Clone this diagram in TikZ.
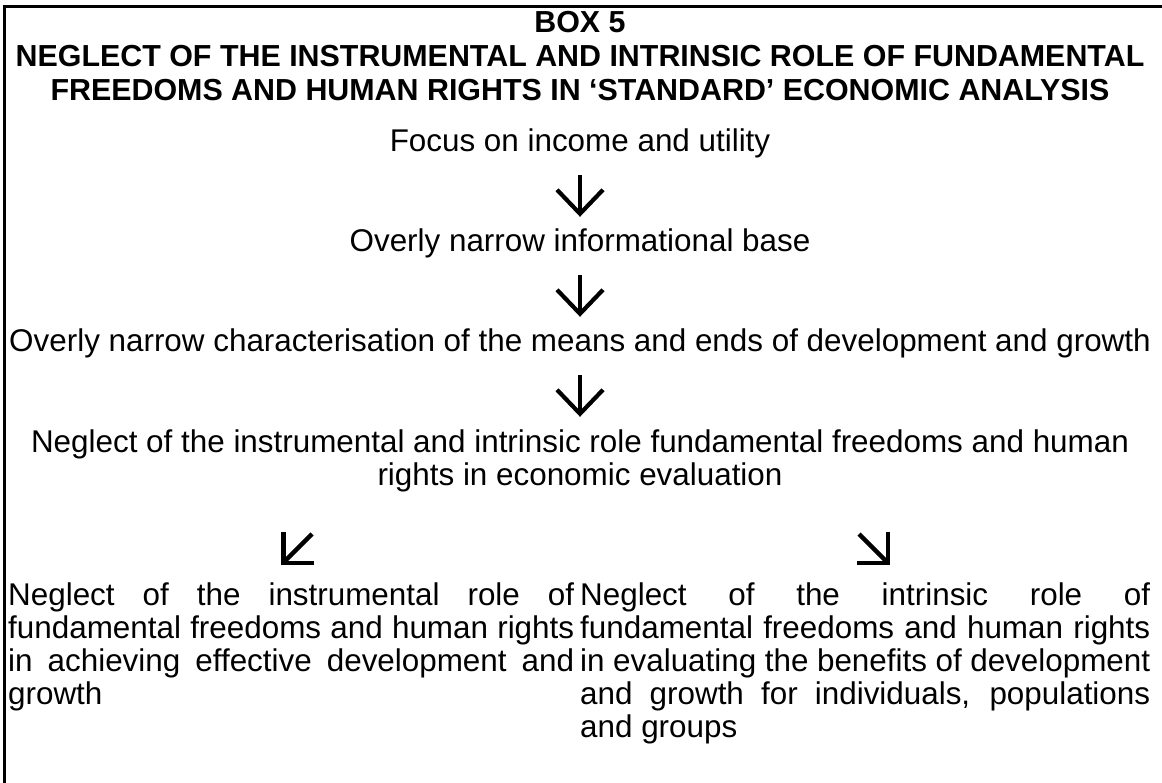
\documentclass[tikz,border=0pt]{standalone}
\usepackage{fontspec}
\setmainfont{Liberation Sans}
\usetikzlibrary{arrows.meta}
\begin{document}
\begin{tikzpicture}[x=1pt,y=-1pt,
  ln/.style={inner sep=0pt, text height=23pt, text depth=7pt, anchor=base,
             font=\fontsize{31.4}{33}\selectfont},
  hd/.style={ln, font=\fontsize{30.4}{33}\selectfont\bfseries},
  lcol/.style={ln, anchor=base west},
  downarr/.style={line width=4.2pt, -{Straight Barb[length=24pt,width=46pt,sharp]},
                  shorten <=16pt, shorten >=12pt},
  diagarr/.style={line width=4.5pt, -{Straight Barb[length=22pt,width=44pt,sharp]}},
  frame/.style={line width=3pt}]
\useasboundingbox (0,0) rectangle (1162,783);
\draw[frame] (4,790) -- (4,7) -- (1170,7);

\node[hd] (box) at (580,33) {BOX 5};
\node[hd] (h2) at (580,67) {NEGLECT OF THE INSTRUMENTAL AND INTRINSIC ROLE OF FUNDAMENTAL};
\node[hd] (h3) at (580,101) {FREEDOMS AND HUMAN RIGHTS IN ‘STANDARD’ ECONOMIC ANALYSIS};

\node[ln] (focus) at (580,152) {Focus on income and utility};
\node[ln] (over1) at (580,252) {Overly narrow informational base};
\node[ln] (over2) at (580,352) {Overly narrow characterisation of the means and ends of development and growth};
\node[ln] (neg1) at (580,452) {Neglect of the instrumental and intrinsic role fundamental freedoms and human};
\node[ln] (neg2) at (580,485) {rights in economic evaluation};

\draw[downarr] (focus) -- (over1);
\draw[downarr] (over1) -- (over2);
\draw[downarr] (over2) -- (neg1);

\coordinate (dls) at (312,534);
\coordinate (dle) at (281,565);
\coordinate (drs) at (859,534);
\coordinate (dre) at (890,565);
\draw[diagarr] (dls) -- (dle);
\draw[diagarr] (drs) -- (dre);

\node[lcol] (l1) at (8,605) {\makebox[566pt][s]{Neglect of the instrumental role of}};
\node[lcol] (l2) at (8,638) {\makebox[566pt][s]{fundamental freedoms and human rights}};
\node[lcol] (l3) at (8,671) {\makebox[566pt][s]{in achieving effective development and}};
\node[lcol] (l4) at (8,704) {growth};

\node[lcol] (r1) at (580,605) {\makebox[570pt][s]{Neglect of the intrinsic role of}};
\node[lcol] (r2) at (580,638) {\makebox[570pt][s]{fundamental freedoms and human rights}};
\node[lcol] (r3) at (580,671) {\makebox[570pt][s]{in evaluating the benefits of development}};
\node[lcol] (r4) at (580,704) {\makebox[570pt][s]{and growth for individuals, populations}};
\node[lcol] (r5) at (580,737) {and groups};
\end{tikzpicture}
\end{document}
